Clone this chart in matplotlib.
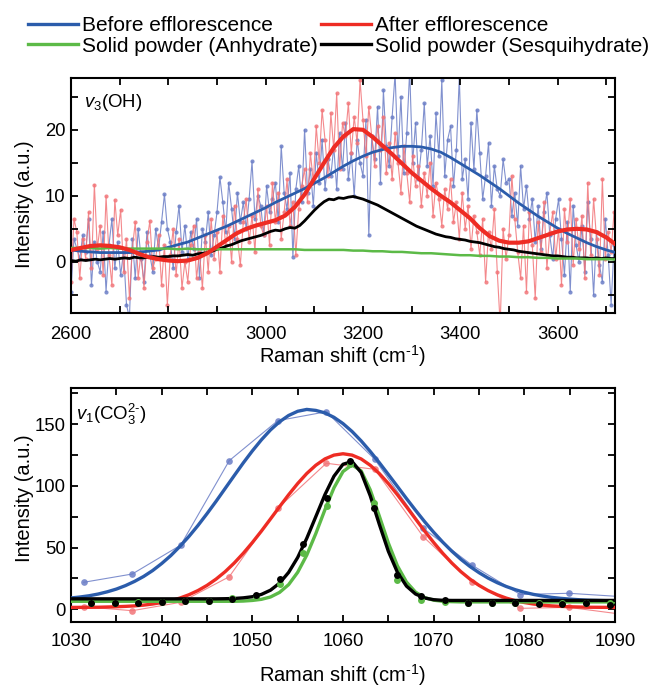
import numpy as np
import matplotlib
matplotlib.use("Agg")
import matplotlib.pyplot as plt
from matplotlib.lines import Line2D
from matplotlib.ticker import MultipleLocator

plt.rcParams['font.family'] = ['Liberation Sans', 'DejaVu Sans']
plt.rcParams['mathtext.fontset'] = 'custom'
plt.rcParams['mathtext.rm'] = 'Liberation Sans'
plt.rcParams['mathtext.it'] = 'Liberation Sans:italic'
plt.rcParams['mathtext.bf'] = 'Liberation Sans:bold'

# ---------------- data: upper panel (v3 OH) ----------------
oh_x_raw = np.arange(2600, 3720, 6)          # 187 raw points
oh_before_raw = [
    -4.5, 3.5, 2.0, 0.5, 4.0, 1.5, 6.5, -3.5, 3.0, 0.0,
    -1.5, 4.5, -4.5, 2.5, 6.5, -1.0, 3.0, -2.0, 1.5, -6.5,
    -8.5, 3.5, -2.5, 5.0, 0.5, -3.0, 4.5, 1.0, -1.5, 5.0,
    2.0, 6.0, 10.2, 5.0, 3.0, -1.0, 4.5, 8.5, 1.5, 5.5,
    0.5, 4.5, 2.0, 6.5, -2.5, 5.0, 3.0, 7.5, 1.0, 4.0,
    7.5, 12.8, 9.0, 4.5, 12.0, 8.0, 3.5, 10.5, 6.0, 9.0,
    5.0, 9.5, 15.2, 6.5, 10.0, 8.5, 4.0, 11.5, 7.5, 9.5,
    12.0, 6.0, 17.5, 10.5, 8.0, 13.5, 0.8, 11.0, 14.5, 9.0,
    20.0, 10.5, 14.0, 8.5, 16.5, 12.0, 18.5, 11.0, 15.5, 13.0,
    17.5, 11.0, 19.5, 14.0, 21.0, 12.5, 16.5, 10.0, 18.5, 15.0,
    13.0, 21.5, 4.0, 19.0, 15.5, 23.5, 12.0, 26.0, 17.5, 14.5,
    22.0, 28.5, 16.0, 25.0, 13.5, 19.5, 29.0, 15.0, 21.0, 12.5,
    17.0, 24.0, 14.5, 19.0, 11.5, 22.5, 16.0, 27.5, 13.0, 18.5,
    20.5, 11.5, 17.0, 28.0, 12.5, 15.5, 9.5, 21.0, 14.0, 23.0,
    16.5, 9.5, 13.0, 18.0, 8.5, 14.5, 11.0, 10.0, 15.5, 12.0,
    12.5, 7.0, 10.5, 5.5, 14.5, 8.0, 11.5, 6.5, 9.5, 3.0,
    8.5, 2.0, 7.5, 10.5, 4.0, 0.5, 6.5, 9.5, 3.5, -2.0,
    6.0, -4.5, 8.5, 2.5, 0.0, 5.5, -1.5, 9.0, 3.5, -5.0,
    4.5, -0.5, -3.0, 6.5, 1.0, -6.5, 2.5]
oh_after_raw = [
    -3.0, 6.5, 4.5, -2.5, 3.5, 0.5, 7.5, -1.0, 11.7, 2.0,
    5.5, -2.0, 9.9, 1.0, -3.5, 9.4, 4.0, 7.9, -1.5, 3.5,
    -5.5, 2.0, 6.0, -2.5, 1.5, -4.0, 3.0, 6.2, -1.0, 0.5,
    4.0, -3.5, 2.5, -6.5, 1.0, 5.0, -2.0, 3.5, -4.0, 0.0,
    -3.0, 2.5, 5.5, -2.5, 1.5, -4.0, 4.0, -1.5, 6.5, 0.5,
    4.5, -1.5, 7.0, 2.5, 5.5, 0.0, 8.5, 3.5, -0.5, 6.0,
    9.5, 3.0, 7.0, 1.5, 11.0, 5.5, 4.0, 8.5, 2.5, 12.0,
    6.0, 10.5, 3.5, 7.5, 12.5, 5.5, 9.0, 1.0, 8.0, 11.5,
    14.0, 9.0, 16.5, 12.0, 20.5, 15.0, 23.0, 18.5, 13.0, 22.5,
    17.0, 25.5, 14.0, 21.0, 19.0, 24.0, 16.5, 22.0, 18.0, 27.5,
    21.5, 16.0, 23.5, 19.0, 14.5, 20.5, 17.0, 22.0, 13.5, 18.0,
    12.5, 19.5, 15.0, 10.5, 17.5, 13.5, 9.0, 16.0, 11.5, 14.5,
    8.5, 13.5, 10.0, 15.0, 7.0, 12.0, 9.5, 5.5, 11.0, 8.0,
    12.5, 6.0, 9.0, 3.5, 10.5, 5.0, 8.5, 2.0, 7.0, 4.5,
    1.0, 6.5, -3.0, 4.5, 2.0, 8.0, -1.5, -9.5, 5.0, 0.5,
    4.0, 13.0, 6.5, 1.5, -2.5, 5.5, -4.5, 7.5, 2.5, -5.5,
    6.0, 1.5, 9.0, -1.0, 4.5, 7.5, 0.5, 5.0, -3.5, 8.0,
    3.0, 9.5, -0.5, 6.5, 2.0, 7.0, -2.5, 12.0, 1.0, 9.5,
    3.5, -2.0, 12.5, 0.5, 4.5, 1.5, 7.5]

oh_x_fit = np.arange(2600, 3721, 20)         # 57 points
oh_before_fit = [
    1.8, 1.6, 1.5, 1.4, 1.4, 1.4, 1.4, 1.5, 1.6, 1.8,
    2.2, 2.6, 3.0, 3.6, 4.2, 4.8, 5.4, 6.1, 6.8, 7.5,
    8.2, 9.0, 9.7, 10.4, 11.1, 11.9, 12.7, 13.6, 14.5, 15.3,
    16.0, 16.6, 17.0, 17.3, 17.5, 17.5, 17.4, 17.1, 16.6, 15.8,
    14.9, 14.0, 13.1, 12.1, 11.1, 10.0, 8.9, 7.9, 6.9, 6.0,
    5.1, 4.3, 3.6, 2.9, 2.3, 1.8, 1.4]
oh_after_fit = [
    1.8, 2.1, 2.4, 2.5, 2.4, 2.2, 1.8, 1.2, 0.7, 0.4,
    0.2, 0.1, 0.2, 0.6, 1.3, 2.3, 3.3, 4.3, 5.0, 5.5,
    5.9, 6.3, 7.0, 8.3, 10.2, 12.6, 15.0, 17.3, 19.0, 20.1,
    20.0, 18.9, 17.6, 16.3, 14.9, 13.5, 12.3, 11.1, 10.0, 9.0,
    7.8, 6.6, 5.1, 3.9, 3.2, 2.9, 2.9, 3.1, 3.6, 4.1,
    4.6, 4.9, 5.0, 4.9, 4.5, 3.7, 2.6]
oh_anhydrate = [
    2.1, 2.1, 2.1, 2.0, 2.1, 2.0, 2.0, 2.0, 2.0, 2.0,
    2.0, 1.9, 2.0, 1.9, 1.9, 1.9, 1.9, 1.9, 1.9, 1.9,
    1.9, 1.9, 1.9, 1.9, 1.8, 1.8, 1.8, 1.8, 1.8, 1.7,
    1.7, 1.6, 1.6, 1.5, 1.5, 1.4, 1.3, 1.3, 1.2, 1.1,
    1.0, 1.0, 0.9, 0.9, 0.8, 0.8, 0.7, 0.7, 0.6, 0.6,
    0.5, 0.5, 0.5, 0.4, 0.4, 0.4, 0.35]

oh_x_sesq = np.arange(2600, 3721, 10)        # 113 points
oh_sesqui = [
    0.2, 0.1, 0.3, 0.2, 0.3, 0.4, 0.3, 0.4, 0.5, 0.4,
    0.5, 0.6, 0.5, 0.7, 0.6, 0.6, 0.7, 0.8, 0.7, 0.8,
    0.8, 0.9, 0.9, 1.0, 1.1, 1.0, 1.2, 1.3, 1.4, 1.6,
    1.9, 2.1, 2.4, 2.6, 2.9, 3.2, 3.4, 3.6, 3.8, 4.0,
    4.3, 4.6, 4.8, 4.7, 5.0, 5.2, 5.1, 5.5, 6.2, 7.0,
    7.8, 8.5, 9.1, 9.5, 9.4, 9.7, 9.6, 9.8, 9.9, 9.7,
    9.5, 9.2, 8.9, 8.6, 8.2, 7.8, 7.4, 7.0, 6.6, 6.2,
    5.8, 5.4, 5.1, 4.8, 4.5, 4.2, 4.0, 3.8, 3.7, 3.5,
    3.4, 3.3, 3.1, 3.0, 2.9, 2.7, 2.5, 2.3, 2.2, 2.0,
    1.9, 1.8, 1.6, 1.5, 1.4, 1.3, 1.2, 1.1, 1.0, 0.9,
    0.9, 0.8, 0.7, 0.7, 0.6, 0.6, 0.6, 0.5, 0.6, 0.5,
    0.6, 0.5, 0.5]

# ---------------- data: lower panel (v1 CO3) ----------------
co_x_pts = [1031.4, 1036.75, 1042.1, 1047.45, 1052.8, 1058.15,
            1063.5, 1068.85, 1074.2, 1079.55, 1084.9, 1090.25]
co_before_pts = [21.9, 28.6, 52.0, 120.4, 152.8, 160.0,
                 121.5, 65.6, 35.9, 12.0, 13.0, 10.5]
co_after_pts = [2.1, -1.1, 5.7, 26.4, 81.8, 118.3,
                113.4, 58.8, 22.1, 0.8, 1.6, -3.5]

co_x_solid = [1032.2, 1034.8, 1037.4, 1040.0, 1042.6, 1045.2, 1047.8, 1050.4,
              1053.0, 1055.6, 1058.2, 1060.8, 1063.4, 1066.0, 1068.6, 1071.2,
              1073.8, 1076.4, 1079.0, 1081.6, 1084.2, 1086.8, 1089.4]
co_sesqui_pts = [4.9, 4.9, 5.4, 5.9, 6.7, 6.7, 8.1, 11.6, 24.3, 52.9, 90.5, 120.4,
                 81.8, 27.8, 10.8, 7.5, 5.4, 5.4, 5.4, 4.3, 4.3, 4.9, 3.8]
co_anhyd_pts = [5.5, 5.5, 5.8, 6.2, 6.7, 6.7, 9.5, 11.0, 20.5, 45.4, 83.7, 118.0,
                85.9, 23.7, 7.5, 5.9, 5.4, 5.4, 5.4, 5.0, 5.0, 5.2, 4.8]

co_x_fit = np.arange(1030, 1091, 1)          # 61 points
co_before_fit = [
    9.2, 10.0, 11.0, 12.4, 14.2, 16.4, 19.2, 22.6, 26.6, 31.4,
    37.1, 43.5, 50.9, 59.0, 67.9, 77.5, 87.5, 97.9, 108.3, 118.6,
    128.3, 137.3, 145.3, 151.9, 157.0, 160.4, 161.9, 161.1, 159.1, 155.5,
    150.4, 144.0, 136.4, 127.9, 118.8, 109.2, 99.5, 89.7, 80.2, 71.0,
    62.4, 54.4, 47.1, 40.5, 34.7, 29.7, 25.3, 21.6, 18.5, 15.9,
    13.8, 12.1, 10.8, 9.7, 8.9, 8.3, 7.8, 7.4, 7.2, 7.0, 6.8]
co_after_fit = [
    1.55, 1.6, 1.65, 1.7, 1.9, 2.1, 2.4, 2.8, 3.4, 4.3,
    5.5, 7.0, 9.1, 11.8, 15.2, 19.4, 24.5, 30.5, 37.5, 45.4,
    54.1, 63.4, 73.2, 83.1, 92.8, 101.9, 110.0, 116.7, 121.8, 124.9,
    126.0, 124.9, 121.8, 116.7, 110.0, 101.9, 92.8, 83.1, 73.2, 63.4,
    54.1, 45.4, 37.5, 30.5, 24.5, 19.4, 15.2, 11.8, 9.1, 7.0,
    5.5, 4.3, 3.4, 2.8, 2.4, 2.1, 1.9, 1.7, 1.65, 1.6, 1.55]
co_sesqui_fit = [
    8.5, 8.5, 8.5, 8.5, 8.5, 8.5, 8.5, 8.5, 8.5, 8.5,
    8.5, 8.5, 8.5, 8.5, 8.5, 8.5, 8.5, 8.6, 8.8, 9.3,
    10.2, 12.1, 15.5, 21.2, 29.9, 42.0, 57.5, 75.1, 92.8, 107.8,
    117.5, 119.7, 110.8, 92.0, 68.9, 47.0, 30.0, 18.8, 12.4, 9.2,
    7.8, 7.3, 7.2, 7.2, 7.2, 7.2, 7.2, 7.2, 7.2, 7.2,
    7.2, 7.2, 7.2, 7.2, 7.2, 7.2, 7.2, 7.2, 7.2, 7.2, 7.2]
co_anhyd_fit = [
    6.5, 6.5, 6.5, 6.5, 6.5, 6.5, 6.5, 6.5, 6.5, 6.5,
    6.5, 6.5, 6.5, 6.5, 6.5, 6.5, 6.5, 6.5, 6.5, 6.7,
    7.2, 8.1, 10.0, 13.7, 20.0, 30.0, 43.9, 61.4, 80.6, 98.4,
    111.6, 117.0, 112.1, 96.8, 75.6, 53.7, 35.2, 22.1, 13.9, 9.5,
    7.4, 6.5, 6.2, 6.0, 6.0, 6.0, 6.0, 6.0, 6.0, 6.0,
    6.0, 6.0, 6.0, 6.0, 6.0, 6.0, 6.0, 6.0, 6.0, 6.0, 6.0]

labels = ["Before efflorescence", "After efflorescence",
          "Solid powder (Anhydrate)", "Solid powder (Sesquihydrate)"]

# ---------------- styles ----------------
BLUE = "#2b5cab"
RED = "#ee2c24"
GREEN = "#5cba47"
BLACK = "#000000"
LBLUE = "#6a7dc6"
LRED = "#f27478"
LGREEN = "#5cba47"

XLABEL = r'Raman shift (cm$^{\text{-}1}$)'

fig = plt.figure(figsize=(6.54, 6.88), dpi=100)
ax1 = fig.add_axes([0.1086, 0.5446, 0.8318, 0.3416])
ax2 = fig.add_axes([0.1086, 0.0955, 0.8318, 0.3401])

# upper panel
ax1.plot(oh_x_raw, oh_before_raw, '-o', color=LBLUE, lw=0.8, ms=3.0,
         alpha=0.85, mec='none', zorder=1)
ax1.plot(oh_x_raw, oh_after_raw, '-o', color=LRED, lw=0.8, ms=3.0,
         alpha=0.85, mec='none', zorder=1.5)
ax1.plot(oh_x_fit, oh_before_fit, '-', color=BLUE, lw=2.0, zorder=3)
ax1.plot(oh_x_sesq, oh_sesqui, '-', color=BLACK, lw=2.0, zorder=4)
ax1.plot(oh_x_fit, oh_anhydrate, '-', color=GREEN, lw=1.8, zorder=4.5)
ax1.plot(oh_x_fit, oh_after_fit, '-', color=RED, lw=3.0, zorder=5)

ax1.set_xlim(2600, 3718)
ax1.set_ylim(-7.8, 27.8)
ax1.xaxis.set_major_locator(MultipleLocator(200))
ax1.xaxis.set_minor_locator(MultipleLocator(100))
ax1.yaxis.set_major_locator(MultipleLocator(10))
ax1.yaxis.set_minor_locator(MultipleLocator(5))
ax1.text(0.024, 0.94, r'$\mathit{v}_3$(OH)', transform=ax1.transAxes,
         fontsize=13.4, va='top', ha='left')
ax1.set_xlabel(XLABEL, fontsize=14.5)
ax1.set_ylabel('Intensity (a.u.)', fontsize=14.5)
ax1.xaxis.set_label_coords(0.5, -0.125)
ax1.yaxis.set_label_coords(-0.068, 0.466)

# lower panel
ax2.plot(co_x_pts, co_before_pts, '-o', color=LBLUE, lw=0.8, ms=4.8,
         alpha=0.85, mec='none', zorder=1)
ax2.plot(co_x_pts, co_after_pts, '-o', color=LRED, lw=0.8, ms=4.8,
         alpha=0.85, mec='none', zorder=1.5)
ax2.plot(co_x_fit, co_before_fit, '-', color=BLUE, lw=2.4, zorder=3)
ax2.plot(co_x_fit, co_after_fit, '-', color=RED, lw=2.4, zorder=3.2)
ax2.plot(co_x_fit, co_anhyd_fit, '-', color=GREEN, lw=2.4, zorder=3.4)
ax2.plot(co_x_fit, co_sesqui_fit, '-', color=BLACK, lw=2.4, zorder=3.6)
ax2.plot(co_x_solid, co_anhyd_pts, 'o', color=LGREEN, ms=5.0, mec='none', zorder=4)
ax2.plot(co_x_solid, co_sesqui_pts, 'o', color=BLACK, ms=5.0, mec='none', zorder=5)

ax2.set_xlim(1030, 1090)
ax2.set_ylim(-10.5, 179)
ax2.xaxis.set_major_locator(MultipleLocator(10))
ax2.xaxis.set_minor_locator(MultipleLocator(5))
ax2.yaxis.set_major_locator(MultipleLocator(50))
ax2.yaxis.set_minor_locator(MultipleLocator(25))
ax2.text(0.01, 0.94, r'$\mathit{v}_1$(CO$_3^{2\text{-}}$)', transform=ax2.transAxes,
         fontsize=13.4, va='top', ha='left')
ax2.set_xlabel(XLABEL, fontsize=14.5)
ax2.set_ylabel('Intensity (a.u.)', fontsize=14.5)
ax2.xaxis.set_label_coords(0.5, -0.172)
ax2.yaxis.set_label_coords(-0.068, 0.532)

for ax, xpad in ((ax1, 9.0), (ax2, 8.0)):
    for s in ax.spines.values():
        s.set_linewidth(1.5)
    ax.tick_params(which='both', direction='in', top=True, right=True,
                   length=5, width=1.3, labelsize=13.3)
    ax.tick_params(axis='x', which='both', pad=xpad)
    ax.tick_params(axis='y', which='both', pad=4)

handles = [Line2D([], [], color=BLUE, lw=2.4),
           Line2D([], [], color=GREEN, lw=2.4),
           Line2D([], [], color=RED, lw=2.4),
           Line2D([], [], color=BLACK, lw=2.4)]
leg_labels = [labels[0], labels[2], labels[1], labels[3]]
fig.legend(handles, leg_labels, ncol=2, loc='upper left',
           bbox_to_anchor=(0.02, 0.998), frameon=False, fontsize=15,
           handlelength=2.4, handletextpad=0.2, columnspacing=0.15,
           labelspacing=0.08, borderpad=0.2)

fig.savefig("out.png", dpi=100)
